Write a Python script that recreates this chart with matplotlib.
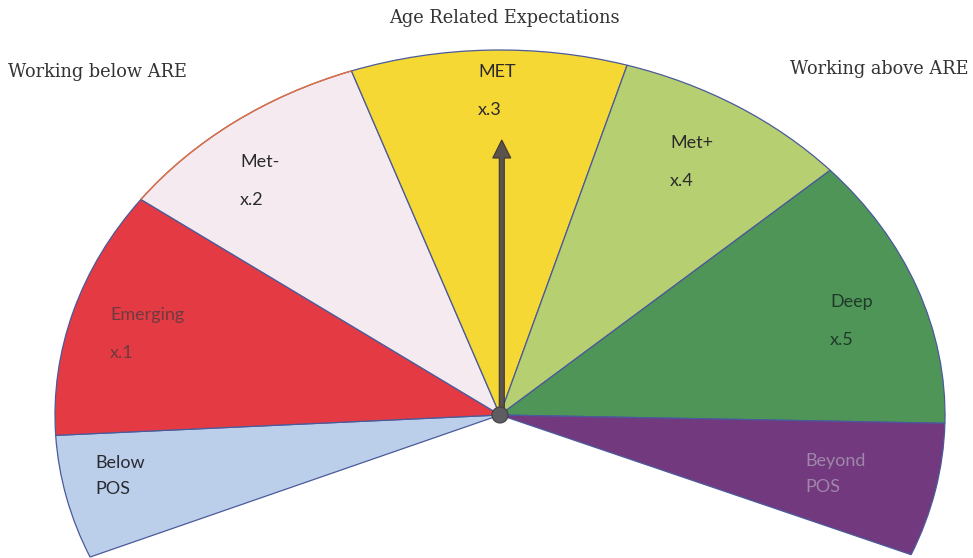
import numpy as np
import matplotlib.pyplot as plt
from matplotlib.patches import Wedge, Ellipse, FancyArrow, Arc

# Bands of the gauge, from the bottom left round to the bottom right
bands = ["Below\nPOS", "Emerging\n\nx.1", "Met-\n\nx.2", "MET\n\nx.3",
         "Met+\n\nx.4", "Deep\n\nx.5", "Beyond\nPOS"]
# Band edges in degrees (start of first band, then end of each band)
edges = [202.9, 183.2, 143.8, 109.5, 73.4, 42.1, -1.3, -22.5]
colors = ["#bccfea", "#e43a44", "#f4eaf0", "#f6d835", "#b6cf70", "#4f9558", "#72397f"]
text_colors = ["#2a2a33", "#6e3a40", "#2b2b2b", "#2b2b2b", "#2b2b2b", "#1e3a28", "#9f86aa"]
needle_angle = 90

title = "Age Related Expectations"
left_note = "Working below ARE"
right_note = "Working above ARE"

W, H = 973, 558
CX, CY, RX, RY = 500, 415, 445, 365


def px(x, y):
    # pixel position -> data position (unit circle stretched into ellipse)
    return (x - CX) / RX, (CY - y) / RY


fig = plt.figure(figsize=(W / 100, H / 100), dpi=100)
ax = fig.add_axes([0, 0, 1, 1])
x0, y0 = px(0, H)
x1, y1 = px(W, 0)
ax.set_xlim(x0, x1)
ax.set_ylim(y0, y1)
ax.axis("off")

for i in range(len(bands)):
    a, b = edges[i + 1], edges[i]
    ax.add_patch(Wedge((0, 0), 1.0, a, b, facecolor=colors[i],
                       edgecolor="#4a5a9a", linewidth=0.9))

# orange rim over the Met- band, as in the original
ax.add_patch(Arc((0, 0), 2, 2, theta1=edges[3], theta2=edges[2],
                 edgecolor="#e8703c", linewidth=1.0, zorder=3))

# label positions (pixel anchors, left aligned)
label_pos = [(95, 476), (110, 334), (240, 181), (478, 91), (670, 162), (830, 321), (805, 474)]
for lab, (x, y), tc in zip(bands, label_pos, text_colors):
    ls = 1.25 if "\n\n" in lab else 1.8
    ax.text(*px(x, y), lab, ha="left", va="center", fontsize=13, color=tc,
            family="Lato", linespacing=ls)

# needle
ang = np.radians(needle_angle)
length = (CY - 140) / RY
ax.add_patch(FancyArrow(0.004, 0, length * np.cos(ang), length * np.sin(ang),
                        width=5 / RX, head_width=18 / RX, head_length=18 / RY,
                        length_includes_head=True, facecolor="#5c534c",
                        edgecolor="#3e3833", linewidth=0.8, zorder=5))
ax.add_patch(Ellipse((0, 0), 16 / RX, 16 / RY, facecolor="#5e5e62",
                     edgecolor="#404040", linewidth=0.8, zorder=6))

fig.text(504 / W, 1 - 18 / H, title, ha="center", va="center",
         fontsize=12.8, family="DejaVu Serif", color="#333333")
fig.text(8 / W, 1 - 72 / H, left_note, ha="left", va="center",
         fontsize=12.8, family="DejaVu Serif", color="#333333")
fig.text(968 / W, 1 - 69 / H, right_note, ha="right", va="center",
         fontsize=12.8, family="DejaVu Serif", color="#333333")

fig.savefig("out.png", dpi=100)
